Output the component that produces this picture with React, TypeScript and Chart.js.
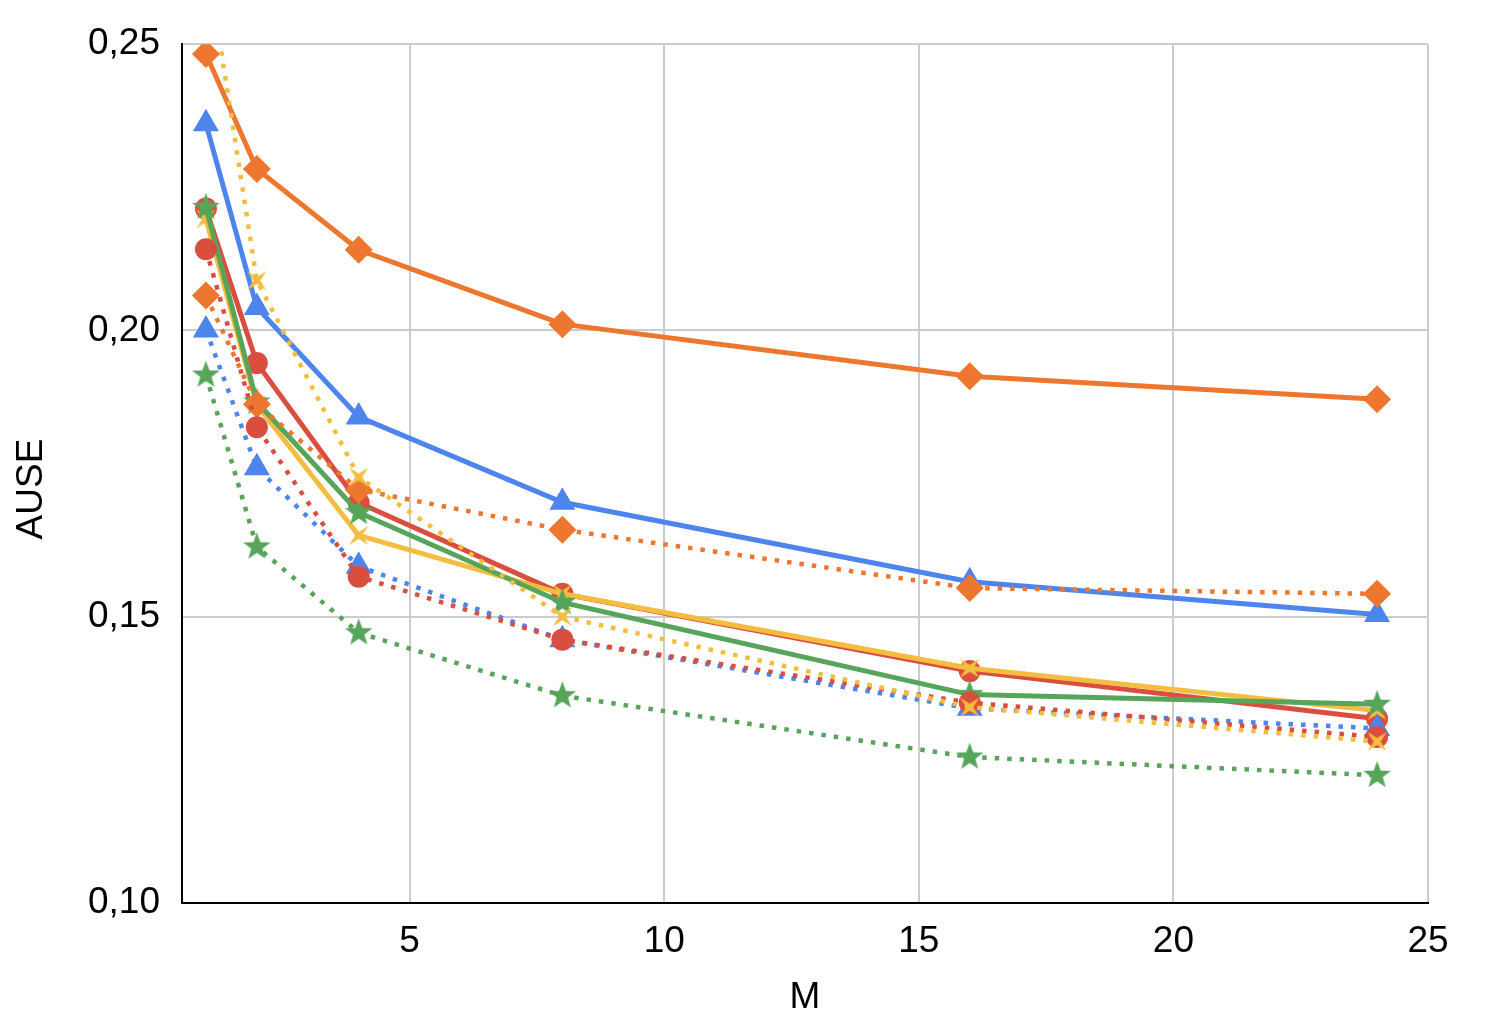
import { useEffect, useRef } from "react";
import { Chart, registerables } from "chart.js";

Chart.register(...registerables);

// M values on the x axis
const mValues = [1, 2, 4, 8, 16, 24];
const xTicks = [5, 10, 15, 20, 25];

// AUSE per series (solid lines)
const orangeSolid = [0.2483, 0.2282, 0.2141, 0.2011, 0.192, 0.188];
const blueSolid = [0.2361, 0.204, 0.1849, 0.17, 0.1561, 0.1504];
const redSolid = [0.2213, 0.1943, 0.1699, 0.154, 0.1405, 0.1322];
const yellowSolid = [0.2195, 0.187, 0.1642, 0.154, 0.141, 0.1336];
const greenSolid = [0.2215, 0.1875, 0.1682, 0.1525, 0.1364, 0.1347];

// AUSE per series (dotted lines)
const orangeDotted = [0.2061, 0.1871, 0.1722, 0.1652, 0.155, 0.154];
const blueDotted = [0.2001, 0.176, 0.1588, 0.146, 0.134, 0.1305];
const redDotted = [0.2142, 0.1831, 0.157, 0.146, 0.135, 0.129];
const yellowDotted = [0.266, 0.2087, 0.1744, 0.15, 0.1342, 0.1282];
const greenDotted = [0.1922, 0.1622, 0.1472, 0.1362, 0.1255, 0.1223];

const ORANGE = "#ed772f";
const BLUE = "#4e85ed";
const RED = "#d94e3f";
const YELLOW = "#f4bd3f";
const GREEN = "#57a55a";

const FONT = { family: "'Liberation Sans', Arial, sans-serif", size: 37 };

function starCanvas(color: string, outer: number, inner: number, points: number, start: number) {
  const size = Math.ceil(outer * 2 + 2);
  const c = document.createElement("canvas");
  c.width = size;
  c.height = size;
  const ctx = c.getContext("2d")!;
  ctx.translate(size / 2, size / 2);
  ctx.beginPath();
  for (let i = 0; i < points * 2; i++) {
    const r = i % 2 === 0 ? outer : inner;
    const a = start + (i * Math.PI) / points;
    ctx.lineTo(r * Math.cos(a), r * Math.sin(a));
  }
  ctx.closePath();
  ctx.fillStyle = color;
  ctx.fill();
  return c;
}

export default function App() {
  const canvasRef = useRef<HTMLCanvasElement>(null);
  const chartRef = useRef<Chart | null>(null);

  useEffect(() => {
    if (!canvasRef.current) return;
    if (chartRef.current) chartRef.current.destroy();

    const greenStar = starCanvas(GREEN, 14.5, 6, 5, -Math.PI / 2);
    const yellowStar = starCanvas(YELLOW, 13.5, 3.5, 4, -Math.PI / 4);

    const line = (data: number[], color: string, style: any, radius: number, dotted: boolean) => ({
      data: data.map((y, i) => ({ x: mValues[i], y })),
      borderColor: color,
      backgroundColor: color,
      borderWidth: dotted ? 4.5 : 5,
      borderDash: dotted ? [4.5, 8] : [],
      pointStyle: style,
      pointRadius: radius,
      pointBorderWidth: 0,
      pointBackgroundColor: color,
      tension: 0,
    });

    // listed bottom-to-top; reversed since Chart.js draws the first dataset last
    const series = [
      line(orangeSolid, ORANGE, "rectRot", 14, false),
      line(blueSolid, BLUE, "triangle", 15, false),
      line(redSolid, RED, "circle", 11, false),
      line(yellowSolid, YELLOW, yellowStar, 12, false),
      line(greenSolid, GREEN, greenStar, 14, false),
      line(orangeDotted, ORANGE, "rectRot", 14, true),
      line(blueDotted, BLUE, "triangle", 15, true),
      line(redDotted, RED, "circle", 11, true),
      line(yellowDotted, YELLOW, yellowStar, 12, true),
      line(greenDotted, GREEN, greenStar, 14, true),
    ].reverse();

    chartRef.current = new Chart(canvasRef.current, {
      type: "line",
      data: { datasets: series as any },
      options: {
        animation: false,
        responsive: true,
        maintainAspectRatio: false,
        layout: { padding: { top: 43, right: 58, left: 0, bottom: 0 } },
        plugins: { legend: { display: false }, tooltip: { enabled: false } },
        scales: {
          x: {
            type: "linear",
            min: 0.53,
            max: 25,
            afterBuildTicks: (scale: any) => {
              scale.ticks = xTicks.map((v) => ({ value: v }));
            },
            afterFit: (scale: any) => {
              scale.height = 133;
            },
            ticks: { font: FONT, color: "#000", padding: 17, maxRotation: 0 },
            grid: { color: "#cccccc", lineWidth: 2, drawTicks: false },
            border: { color: "#000", width: 2 },
            title: { display: true, text: "M", font: FONT, color: "#000", padding: { top: 0, bottom: 16 } },
          },
          y: {
            min: 0.1,
            max: 0.25,
            afterFit: (scale: any) => {
              scale.width = 182;
            },
            ticks: {
              stepSize: 0.05,
              font: FONT,
              color: "#000",
              padding: 22,
              callback: (v: any) => Number(v).toFixed(2).replace(".", ","),
            },
            grid: { color: "#cccccc", lineWidth: 2, drawTicks: false },
            border: { color: "#000", width: 2 },
            title: { display: true, text: "AUSE   ", font: FONT, color: "#000", padding: { top: 10, bottom: 0 } },
          },
        },
      },
    });

    return () => {
      if (chartRef.current) {
        chartRef.current.destroy();
        chartRef.current = null;
      }
    };
  }, []);

  return (
    <div style={{ position: "absolute", left: 0, top: 0, width: 1486, height: 1036, background: "#fff" }}>
      <canvas ref={canvasRef}></canvas>
    </div>
  );
}
